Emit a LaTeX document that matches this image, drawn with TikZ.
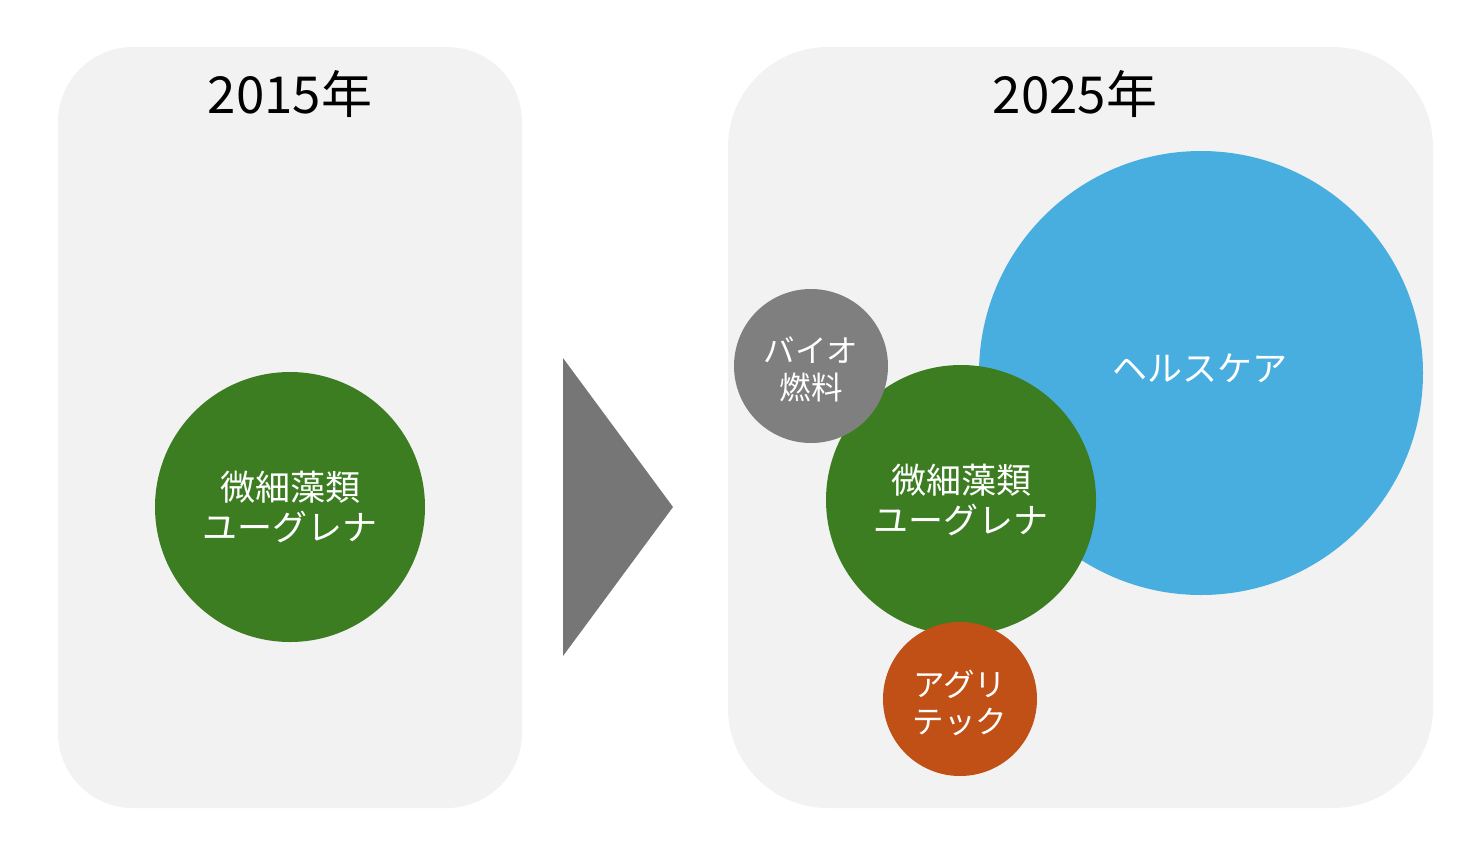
\documentclass[tikz,border=0pt]{standalone}
\usepackage{fontspec}
\newfontfamily\jp{Noto Sans CJK JP}
\definecolor{panel}{HTML}{F2F2F2}
\definecolor{arrowgray}{HTML}{767676}
\definecolor{euglena}{HTML}{3C7D22}
\definecolor{health}{HTML}{47AEDF}
\definecolor{biofuel}{HTML}{7F7F7F}
\definecolor{agri}{HTML}{C05016}
\begin{document}
\begin{tikzpicture}[x=1pt,y=-1pt,
  panelbox/.style={fill=panel,draw=none},
  title/.style={font=\jp\fontsize{51}{55}\selectfont,text=black},
  bub/.style={circle,draw=none,inner sep=0pt,text=white,align=center},
  bubtext/.style={font=\jp\fontsize{35}{40}\selectfont},
  smalltext/.style={font=\jp\fontsize{31.5}{37}\selectfont,text=white,align=center}]
\useasboundingbox (0,0) rectangle (1465,855);
\fill[panelbox,rounded corners=75] (58,47) rectangle (522,808);
\fill[panelbox,rounded corners=100] (728,47) rectangle (1433,808);
\node[title] (t1) at (290,94) {2015年};
\node[title] (t2) at (1075,94) {2025年};
\fill[arrowgray] (563,358) -- (673,507) -- (563,656) -- cycle;
\node[bub,fill=euglena,minimum size=270,bubtext] (e1) at (290,507) {微細藻類\\ユーグレナ};
\node[bub,fill=health,minimum size=444] (h) at (1201,373) {};
\node[bubtext,text=white] (hl) at (1200,368) {ヘルスケア};
\node[bub,fill=euglena,minimum size=270,bubtext] (e2) at (961,500) {微細藻類\\ユーグレナ};
\node[bub,fill=biofuel,minimum size=154] (b) at (811,366) {};
\node[smalltext] (bl) at (811,369) {バイオ\\燃料};
\node[bub,fill=agri,minimum size=154] (a) at (960,699) {};
\node[smalltext] (al) at (960,703) {アグリ\\テック};
\end{tikzpicture}
\end{document}
